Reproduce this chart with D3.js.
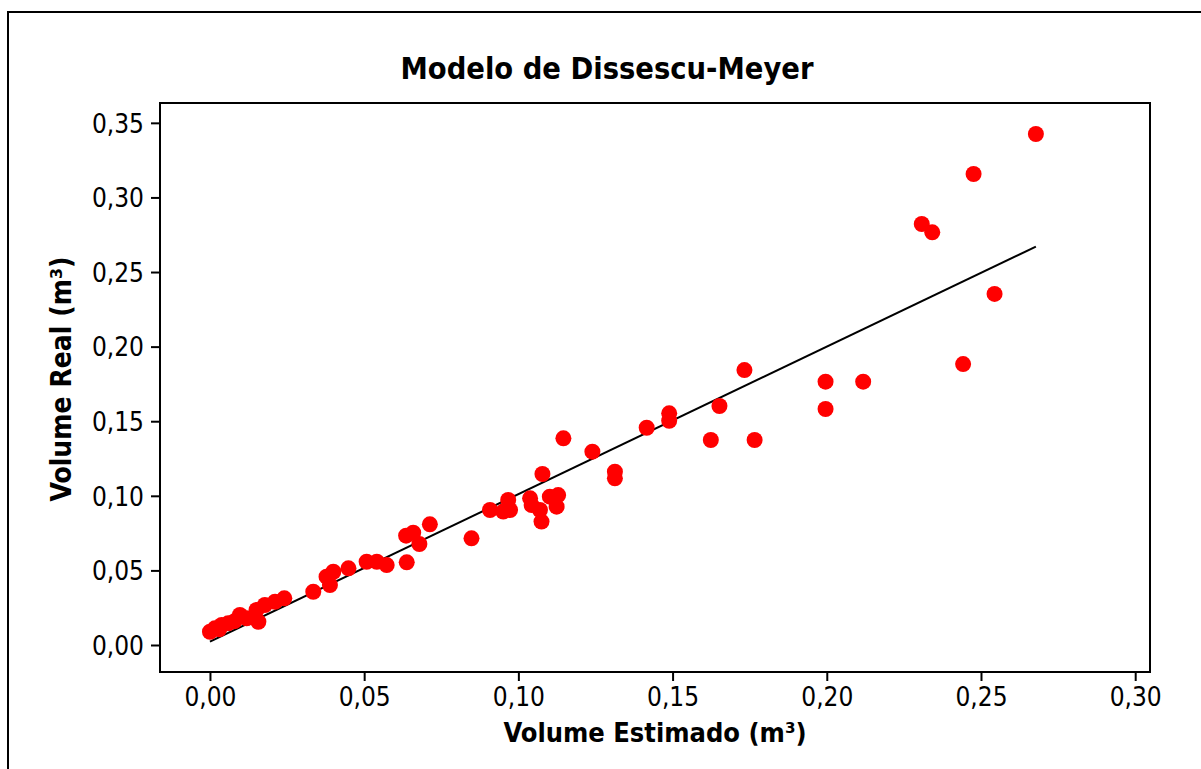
<!DOCTYPE html>
<html>
<head>
<meta charset="utf-8">
<script src="https://cdn.jsdelivr.net/npm/d3@7"></script>
<style>
  html, body { margin: 0; padding: 0; background: #fff; }
  svg { display: block; }
  text { font-family: "DejaVu Sans Condensed", "DejaVu Sans", sans-serif; fill: #000; }
</style>
</head>
<body>
<svg id="chart" width="1201" height="769"></svg>
<script>
// ---- data ----
const chartTitle = "Modelo de Dissescu-Meyer";
const xLabel = "Volume Estimado (m³)";
const yLabel = "Volume Real (m³)";

const volumeEstimado = [
  0.0000, 0.0016, 0.0030, 0.0038, 0.0059, 0.0080, 0.0097, 0.0119, 0.0151, 0.0157,
  0.0178, 0.0211, 0.0241, 0.0335, 0.0378, 0.0389, 0.0400, 0.0449, 0.0508, 0.0541,
  0.0573, 0.0636, 0.0638, 0.0659, 0.0679, 0.0713, 0.0848, 0.0908, 0.0951, 0.0967,
  0.0973, 0.1038, 0.1043, 0.1070, 0.1075, 0.1078, 0.1102, 0.1124, 0.1129, 0.1146,
  0.1240, 0.1313, 0.1313, 0.1416, 0.1489, 0.1489, 0.1624, 0.1652, 0.1733, 0.1766,
  0.1996, 0.1996, 0.2118, 0.2308, 0.2342, 0.2442, 0.2476, 0.2544, 0.2678
];
const volumeReal = [
  0.0089, 0.0112, 0.0105, 0.0134, 0.0145, 0.0160, 0.0201, 0.0179, 0.0235, 0.0156,
  0.0268, 0.0290, 0.0313, 0.0357, 0.0458, 0.0402, 0.0491, 0.0514, 0.0558, 0.0558,
  0.0536, 0.0733, 0.0554, 0.0753, 0.0677, 0.0809, 0.0715, 0.0905, 0.0894, 0.0972,
  0.0905, 0.0983, 0.0938, 0.0905, 0.0827, 0.1146, 0.0994, 0.0927, 0.1005, 0.1385,
  0.1296, 0.1162, 0.1117, 0.1456, 0.1553, 0.1503, 0.1374, 0.1602, 0.1843, 0.1374,
  0.1765, 0.1582, 0.1765, 0.2822, 0.2766, 0.1883, 0.3157, 0.2353, 0.3425
];
// fitted line endpoints (x, y)
const fitX = [0.0000, 0.2678];
const fitY = [0.0022, 0.2670];

const xTicks = [0.00, 0.05, 0.10, 0.15, 0.20, 0.25, 0.30];
const yTicks = [0.00, 0.05, 0.10, 0.15, 0.20, 0.25, 0.30, 0.35];
const xDomain = [-0.0162, 0.3048];
const yDomain = [-0.0181, 0.3633];

// ---- layout ----
const svg = d3.select("#chart");
const plot = { left: 160, right: 1150, top: 103, bottom: 672 };

const fmt = d => d3.format(".2f")(d).replace(".", ",");

const x = d3.scaleLinear().domain(xDomain).range([plot.left, plot.right]);
const y = d3.scaleLinear().domain(yDomain).range([plot.bottom, plot.top]);

// outer frame
svg.append("rect")
  .attr("x", 8).attr("y", 12)
  .attr("width", 1201).attr("height", 800)
  .attr("fill", "none").attr("stroke", "#000").attr("stroke-width", 2);

// title
svg.append("text")
  .attr("x", 607).attr("y", 79)
  .attr("text-anchor", "middle")
  .attr("font-weight", "bold")
  .attr("font-size", 30.5)
  .text(chartTitle);

// axes
const xAxis = d3.axisBottom(x).tickValues(xTicks).tickFormat(fmt).tickSizeInner(9).tickSizeOuter(0).tickPadding(7);
const yAxis = d3.axisLeft(y).tickValues(yTicks).tickFormat(fmt).tickSizeInner(9).tickSizeOuter(0).tickPadding(7);

const gx = svg.append("g").attr("transform", `translate(0,${plot.bottom})`).call(xAxis);
const gy = svg.append("g").attr("transform", `translate(${plot.left},0)`).call(yAxis);
[gx, gy].forEach(g => {
  g.select(".domain").remove();
  g.selectAll(".tick line").attr("stroke", "#000").attr("stroke-width", 2);
  g.selectAll(".tick text")
    .attr("font-family", null)
    .attr("font-size", 26).attr("fill", "#000");
});
gy.selectAll(".tick text").attr("dy", "0.36em");

// fitted line
svg.append("line")
  .attr("x1", x(fitX[0])).attr("y1", y(fitY[0]))
  .attr("x2", x(fitX[1])).attr("y2", y(fitY[1]))
  .attr("stroke", "#000").attr("stroke-width", 2);

// points
svg.append("g").selectAll("circle")
  .data(volumeEstimado.map((v, i) => [v, volumeReal[i]]))
  .join("circle")
  .attr("cx", d => x(d[0]))
  .attr("cy", d => y(d[1]))
  .attr("r", 8)
  .attr("fill", "#ff0000");

// plot frame
svg.append("rect")
  .attr("x", plot.left).attr("y", plot.top)
  .attr("width", plot.right - plot.left).attr("height", plot.bottom - plot.top)
  .attr("fill", "none").attr("stroke", "#000").attr("stroke-width", 2);

// axis labels
svg.append("text")
  .attr("x", 655).attr("y", 742)
  .attr("text-anchor", "middle")
  .attr("font-weight", "bold")
  .attr("font-size", 27)
  .text(xLabel);

svg.append("text")
  .attr("transform", "translate(71,379) rotate(-90)")
  .attr("text-anchor", "middle")
  .attr("font-weight", "bold")
  .attr("font-size", 28)
  .text(yLabel);
</script>
</body>
</html>
